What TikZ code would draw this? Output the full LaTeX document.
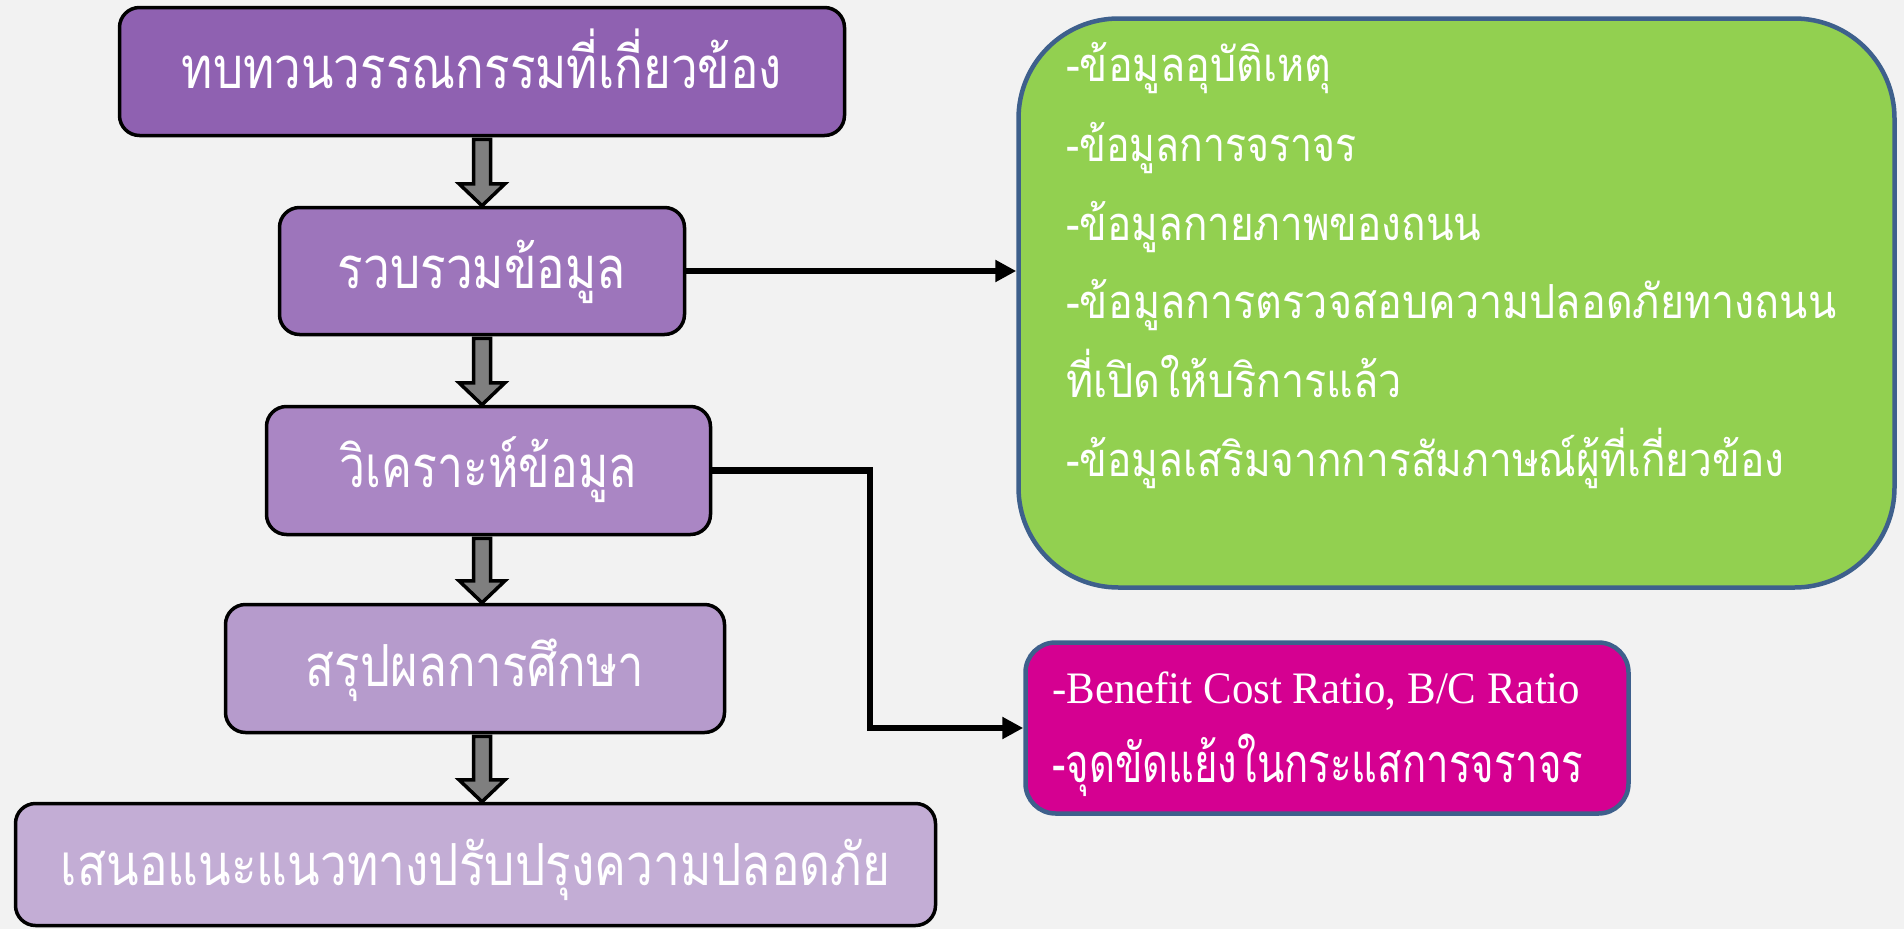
\documentclass[tikz,border=0pt]{standalone}
\usepackage{fontspec}
\usetikzlibrary{arrows.meta,calc}
\newfontfamily\thaifnt[Script=Thai]{Loma}
\newfontfamily\latinserif{Liberation Serif}
\newcommand{\fitw}[2]{\resizebox{#1}{\height}{#2}}
\definecolor{bgc}{HTML}{F2F2F2}
\definecolor{cA}{RGB}{143,97,177}
\definecolor{cB}{RGB}{157,117,187}
\definecolor{cC}{RGB}{170,134,196}
\definecolor{cD}{RGB}{182,155,204}
\definecolor{cE}{RGB}{195,173,213}
\definecolor{grn}{HTML}{92D050}
\definecolor{mag}{RGB}{213,0,145}
\definecolor{bblue}{RGB}{62,96,140}
\definecolor{agray}{RGB}{127,127,127}
\newcommand{\blockarrow}[2]{%
  \path[blockarr] let \p1=(#1), \p2=(#2) in
   (\x1-8.5pt,\y1-2pt) -- (\x1+8.5pt,\y1-2pt) -- (\x1+8.5pt,\y2+22pt) -- (\x1+23pt,\y2+22pt)
   -- (\x1,\y2) -- (\x1-23pt,\y2+22pt) -- (\x1-8.5pt,\y2+22pt) -- cycle;}
\begin{document}
\begin{tikzpicture}[x=1pt,y=-1pt,
  box/.style={draw=black, line width=3.5pt, rounded corners=20pt, inner sep=0pt,
    text=white, font=\thaifnt\fontsize{58}{60}\selectfont,
    text height=34pt, text depth=0pt, align=center},
  panel/.style={draw=bblue, line width=4.5pt, inner sep=0pt},
  ptext/.style={inner sep=0pt, text=white, anchor=base west},
  gtext/.style={ptext, font=\thaifnt\fontsize{47}{50}\selectfont},
  mtext/.style={ptext, font=\thaifnt\fontsize{54}{56}\selectfont},
  ltext/.style={ptext, font=\latinserif\fontsize{45}{48}\selectfont},
  blockarr/.style={draw=black, line width=3.5pt, fill=agray, line join=miter},
  conn/.style={draw=black, line width=6.5pt, line join=miter, -{Triangle[length=21pt,width=21pt]}}]
\fill[bgc] (0,0) rectangle (1904,929);
\useasboundingbox (0,0) rectangle (1904,929);

% left column
\node[box, fill=cA, minimum width=725pt, minimum height=128pt] (b1) at (482,71.5)
  {\fitw{600pt}{ทบทวนวรรณกรรมที่เกี่ยวข้อง}};
\node[box, fill=cB, minimum width=405pt, minimum height=127pt] (b2) at (482,271)
  {\fitw{288pt}{รวบรวมข้อมูล}};
\node[box, fill=cC, minimum width=444pt, minimum height=128pt] (b3) at (488.5,470.5)
  {\fitw{297pt}{วิเคราะห์ข้อมูล}};
\node[box, fill=cD, minimum width=499pt, minimum height=128pt, text height=36pt] (b4) at (475,668.5)
  {\fitw{338pt}{สรุปผลการศึกษา}};
\node[box, fill=cE, minimum width=920pt, minimum height=122pt, text height=42pt] (b5) at (475.5,864.5)
  {\fitw{829pt}{เสนอแนะแนวทางปรับปรุงความปลอดภัย}};

\blockarrow{b1.south}{b2.north}
\blockarrow{b2.south}{b3.north -| b2.north}
\blockarrow{b3.south -| b1.south}{b4.north}
\blockarrow{b4.south -| b1.south}{b5.north}

% green panel
\node[panel, fill=grn, rounded corners=100pt, minimum width=876pt, minimum height=569pt] (g) at (1456.5,303) {};
\node[gtext] (g1) at (1066,81.5) {\fitw{265pt}{-ข้อมูลอุบัติเหตุ}};
\node[gtext] (g2) at (1066,161) {\fitw{290pt}{-ข้อมูลการจราจร}};
\node[gtext] (g3) at (1066,240) {\fitw{415pt}{-ข้อมูลกายภาพของถนน}};
\node[gtext] (g4) at (1066,318.5) {\fitw{770pt}{-ข้อมูลการตรวจสอบความปลอดภัยทางถนน}};
\node[gtext] (g5) at (1066,397) {\fitw{336pt}{ที่เปิดให้บริการแล้ว}};
\node[gtext] (g6) at (1066,476) {\fitw{718pt}{-ข้อมูลเสริมจากการสัมภาษณ์ผู้ที่เกี่ยวข้อง}};

% magenta panel
\node[panel, fill=mag, rounded corners=30pt, minimum width=603pt, minimum height=171pt] (m) at (1327,728) {};
\node[ltext] (m1) at (1052,703) {\fitw{528pt}{-Benefit Cost Ratio, B/C Ratio}};
\node[mtext] (m2) at (1052,782) {\fitw{531pt}{-จุดขัดแย้งในกระแสการจราจร}};

% connectors
\coordinate (j) at (870,470.5);
\draw[conn] (b2.east) -- (b2.east -| g.west);
\draw[conn] (b3.east) -- (j) -- (j |- m.west) -- (m.west);
\end{tikzpicture}
\end{document}
